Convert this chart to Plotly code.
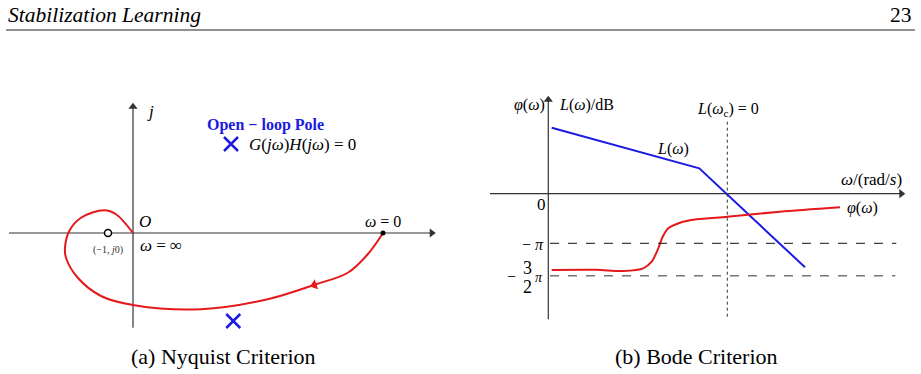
import plotly.graph_objects as go

# ---------------- data ----------------
nyq_re = [10.0, 9.39, 8.59, 7.32, 5.39, 2.72, 0.05, -1.28, -2.21, -2.68, -2.72, -2.55, -2.08, -1.15, -0.68, 0.0]
nyq_im = [0.0, -0.85, -1.59, -2.05, -2.65, -3.05, -2.89, -2.52, -1.79, -0.99, -0.59, 0.08, 0.61, 0.91, 0.75, 0.0]
crit_point = (-1.0, 0.0)
omega0_point = (10.0, 0.0)
pole_point = (4.01, -3.52)
legend_pole = (3.92, 3.56)
nyq_arrow = (7.25, -2.08)

# Bode: x in lg(omega) units
L_x = [0.034, 1.51, 2.567]
L_db = [33.0, 12.7, -36.8]
phase_x = [0.034, 0.48, 0.75, 0.95, 1.034, 1.10, 1.144, 1.20, 1.317, 1.484, 1.79, 2.317, 2.917]
phase_pi = [-1.412, -1.41, -1.427, -1.386, -1.284, -1.077, -0.898, -0.769, -0.682, -0.630, -0.590, -0.512, -0.444]
omega_c = 1.79
phase_levels = [-1.0, -1.5]

RED = "#e3191c"
BLUE = "#1b1be3"
AX = "#333333"
SERIF = "Liberation Serif"

W, H = 921, 374


def py(p):
    return 1 - p / H


def px(p):
    return p / W


fig = go.Figure()


def axis_arrow(xs, ys, xr, yr, symbol):
    fig.add_trace(go.Scatter(x=xs, y=ys, mode="lines", line=dict(color=AX, width=1.2),
                             xaxis=xr, yaxis=yr, hoverinfo="skip"))
    fig.add_trace(go.Scatter(x=[xs[-1]], y=[ys[-1]], mode="markers",
                             marker=dict(symbol=symbol, size=8, color=AX, line=dict(width=0)),
                             xaxis=xr, yaxis=yr, hoverinfo="skip"))


# ---------------- Nyquist ----------------
axis_arrow([-4.96, 11.95], [0, 0], "x", "y", "triangle-right")
axis_arrow([0, 0], [-3.79, 5.05], "x", "y", "triangle-up")

fig.add_trace(go.Scatter(x=nyq_re, y=nyq_im, mode="lines",
                         line=dict(color=RED, width=2, shape="spline", smoothing=1.0),
                         xaxis="x", yaxis="y", hoverinfo="skip"))
fig.add_trace(go.Scatter(x=[nyq_arrow[0]], y=[nyq_arrow[1]], mode="markers",
                         marker=dict(symbol="triangle-up", size=9, angle=251, color=RED, line=dict(width=0)),
                         xaxis="x", yaxis="y"))
fig.add_trace(go.Scatter(x=[crit_point[0]], y=[crit_point[1]], mode="markers",
                         marker=dict(symbol="circle", size=7, color="white",
                                     line=dict(color="black", width=1.5)),
                         xaxis="x", yaxis="y"))
fig.add_trace(go.Scatter(x=[omega0_point[0]], y=[omega0_point[1]], mode="markers",
                         marker=dict(symbol="circle", size=5, color="black"),
                         xaxis="x", yaxis="y"))
fig.add_trace(go.Scatter(x=[legend_pole[0], pole_point[0]], y=[legend_pole[1], pole_point[1]],
                         mode="markers",
                         marker=dict(symbol="x-thin", size=14, line=dict(color=BLUE, width=2.5)),
                         xaxis="x", yaxis="y"))

# ---------------- Bode ----------------
axis_arrow([-0.583, 3.53], [0, 0], "x2", "y2", "triangle-right")
axis_arrow([0, 0], [-62.8, 47.0], "x2", "y2", "triangle-up")

fig.add_trace(go.Scatter(x=L_x, y=L_db, mode="lines", line=dict(color=BLUE, width=2),
                         xaxis="x2", yaxis="y2"))
fig.add_trace(go.Scatter(x=phase_x, y=phase_pi, mode="lines",
                         line=dict(color=RED, width=2, shape="spline", smoothing=0.8),
                         xaxis="x2", yaxis="y3"))

shapes = []
shapes.append(dict(type="line", xref="x2", yref="y2", x0=omega_c, x1=omega_c, y0=-61.5, y1=36.85,
                   line=dict(color="#333", width=1, dash="dot")))
shapes.append(dict(type="line", xref="x2", yref="y3", x0=0.017, x1=3.48, y0=phase_levels[0], y1=phase_levels[0],
                   line=dict(color="#111", width=1, dash="dash")))
shapes.append(dict(type="line", xref="x2", yref="y3", x0=0.017, x1=3.47, y0=phase_levels[1], y1=phase_levels[1],
                   line=dict(color="#777", width=1.5, dash="dash")))
# header rule
shapes.append(dict(type="line", xref="paper", yref="paper", x0=px(6), x1=px(915), y0=py(30), y1=py(30),
                   line=dict(color="#222", width=1)))

ann = []


def txt(x, y, s, xr="paper", yr="paper", size=15, color="black", xanchor="center", yanchor="middle"):
    ann.append(dict(x=x, y=y, xref=xr, yref=yr, text=s, showarrow=False,
                    font=dict(family=SERIF, size=size, color=color),
                    xanchor=xanchor, yanchor=yanchor))


# Nyquist labels
txt(0.71, 4.85, "<i>j</i>", "x", "y", size=17)
txt(0.16, 0.45, "<i>O</i>", "x", "y", size=17, xanchor="left")
txt(0.2, -0.5, "<i>ω</i> = ∞", "x", "y", size=17, xanchor="left")
txt(-1.02, -0.66, "(−1, <i>j</i>0)", "x", "y", size=10, color="#333")
txt(9.98, 0.45, "<i>ω</i> = 0", "x", "y", size=16)
txt(2.88, 4.32, "<b>Open − loop Pole</b>", "x", "y", size=16, color=BLUE, xanchor="left")
txt(4.56, 3.56, "<i>G</i>(<i>jω</i>)<i>H</i>(<i>jω</i>) = 0", "x", "y", size=17, xanchor="left")

# Bode labels
txt(-0.193, 44.35, "<i>φ</i>(<i>ω</i>)", "x2", "y2", size=16)
txt(0.382, 44.35, "<i>L</i>(<i>ω</i>)/dB", "x2", "y2", size=16)
txt(1.797, 42.35, "<i>L</i>(<i>ω</i><sub>c</sub>) = 0", "x2", "y2", size=16)
txt(1.247, 22.35, "<i>L</i>(<i>ω</i>)", "x2", "y2", size=16)
txt(3.232, 7.35, "<i>ω</i>/(rad/<i>s</i>)", "x2", "y2", size=17)
txt(3.142, -7.15, "<i>φ</i>(<i>ω</i>)", "x2", "y2", size=16)
txt(-0.073, -5.15, "0", "x2", "y2", size=17)
txt(-0.158, -25.15, "− <i>π</i>", "x2", "y2", size=16)
txt(-0.37, -41.5, "−", "x2", "y2", size=16)
txt(-0.206, -37.0, "3", "x2", "y2", size=18)
txt(-0.206, -46.4, "2", "x2", "y2", size=18)
txt(-0.09, -42.0, "<i>π</i>", "x2", "y2", size=14)

# captions & header
txt(px(223), py(356.5), "(a) Nyquist Criterion", size=22)
txt(px(696), py(356.5), "(b) Bode Criterion", size=22)
txt(px(6), py(15), "<i>Stabilization Learning</i>", size=21.5, xanchor="left")
txt(px(914), py(15), "23", size=21.5, xanchor="right")

hid = dict(visible=False, showgrid=False, zeroline=False, fixedrange=True)
fig.update_layout(
    width=W, height=H, margin=dict(l=0, r=0, t=0, b=0),
    paper_bgcolor="white", plot_bgcolor="white", showlegend=False,
    xaxis=dict(domain=[0, px(450)], range=[-5.32, 12.68], anchor="y", **hid),
    yaxis=dict(domain=[py(340), py(90)], range=[-4.28, 5.72], anchor="x", **hid),
    xaxis2=dict(domain=[px(470), 1.0], range=[-0.783, 3.727], anchor="y2", **hid),
    yaxis2=dict(domain=[py(330), py(85)], range=[-68.15, 54.35], anchor="x2", **hid),
    yaxis3=dict(range=[-2.338, 1.443], overlaying="y2", anchor="x2", **hid),
    shapes=shapes, annotations=ann,
)

fig.write_html("out.html")
